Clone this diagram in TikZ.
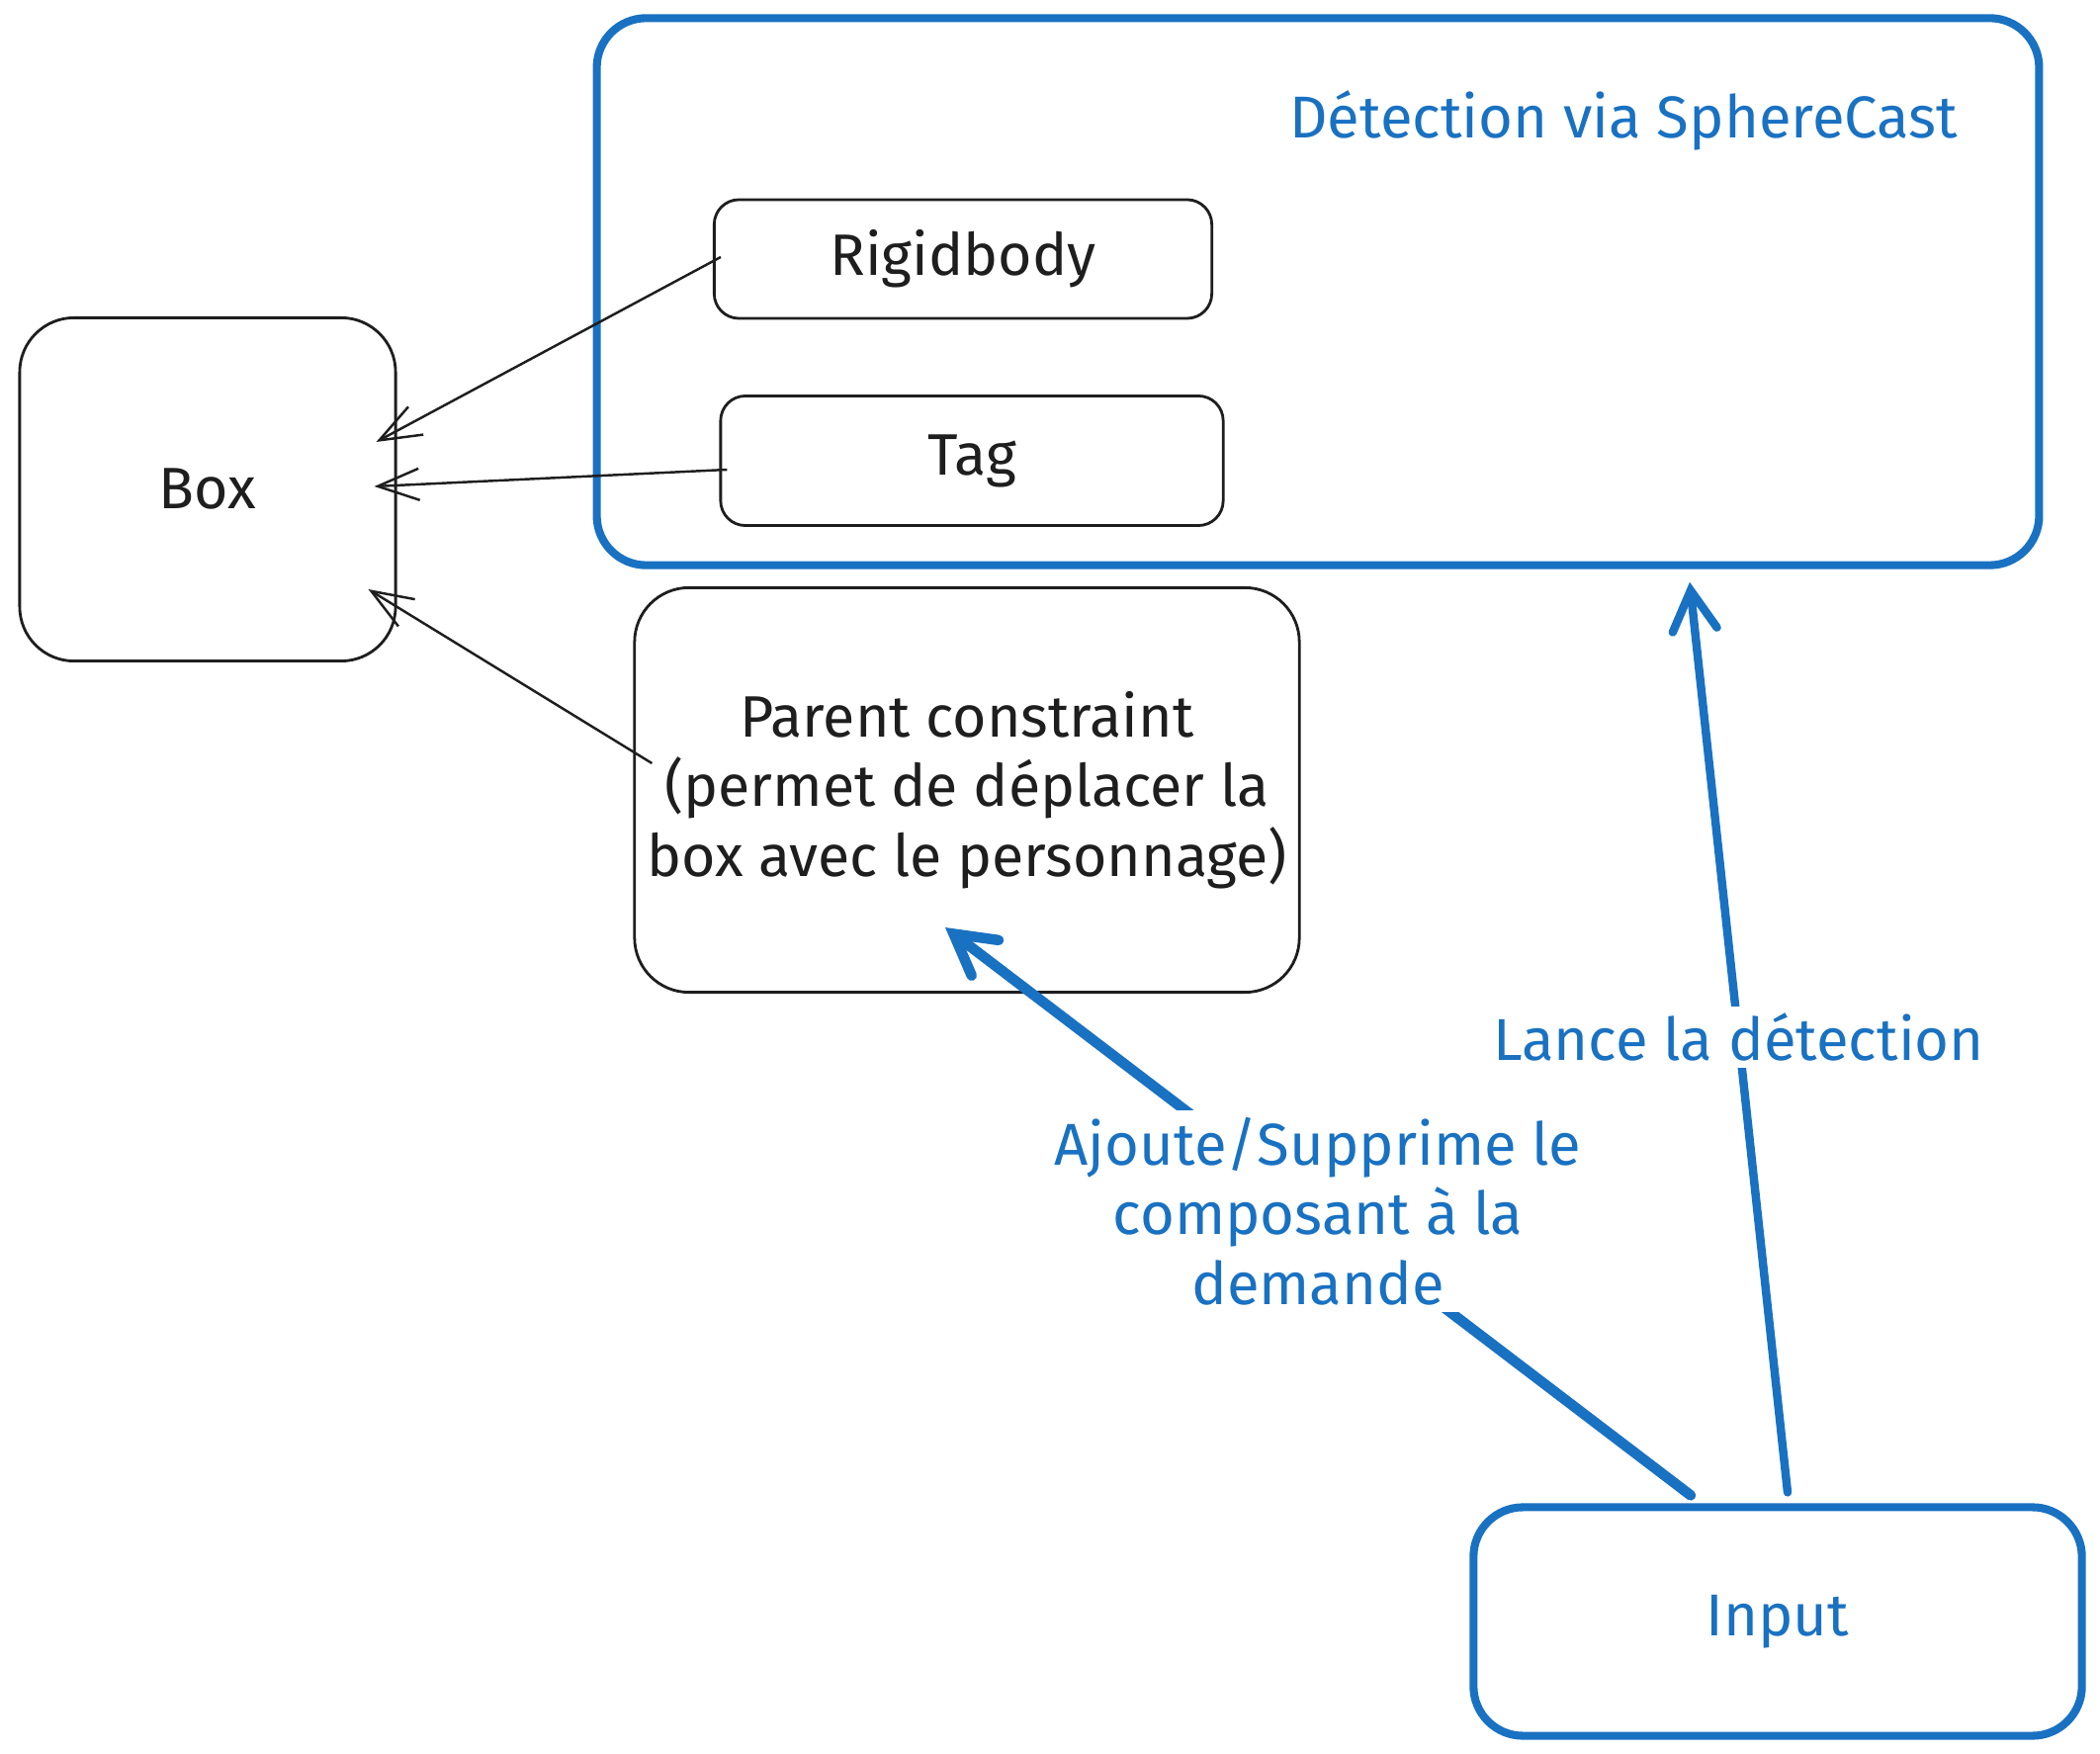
\documentclass[tikz,border=0pt]{standalone}
\usepackage{fontspec}
\setmainfont{Fira Sans}
\usepackage{tikz}
\usetikzlibrary{arrows.meta, calc}
\definecolor{exblue}{RGB}{25,113,194}
\definecolor{exblack}{RGB}{30,30,30}

\tikzset{
    plainbox/.style={draw=exblack, line width=0.8pt, rounded corners=0.25cm, font=\fontsize{16.8}{20}\selectfont, text=exblack},
    bluebox/.style={draw=exblue, line width=2.3pt, rounded corners=0.5cm, font=\fontsize{17}{20}\selectfont, text=exblue},
    blacklink/.style={draw=exblack, line width=0.7pt, -{Straight Barb[length=4.2mm, width=3.2mm]}},
    bluelink/.style={draw=exblue, line width=2.4pt, line cap=round, -{Straight Barb[length=4mm, width=4.5mm, line cap=round]}},
    bluelabel/.style={fill=white, text=exblue, font=\fontsize{17}{20}\selectfont, align=center, inner sep=2pt}
}

\begin{document}
\begin{tikzpicture}[x=0.01cm, y=-0.01cm]
    \useasboundingbox (0,0) rectangle (2124,1774);

    % SphereCast frame
    \node[bluebox, minimum width=14.58cm, minimum height=5.53cm] at (1333,295) (detection) {};
    \node[text=exblue, font=\fontsize{17}{20}\selectfont] at (1642,122) (detectiontitle) {Détection via SphereCast};

    % Components
    \node[plainbox, minimum width=5.03cm, minimum height=1.2cm] at (974,262) (rigidbody) {Rigidbody};
    \node[plainbox, minimum width=5.08cm, minimum height=1.31cm] at (983,466) (tag) {Tag};
    \node[plainbox, rounded corners=0.55cm, minimum width=3.8cm, minimum height=3.47cm] at (210,495) (box) {Box};
    \node[plainbox, rounded corners=0.55cm, minimum width=6.72cm, minimum height=4.09cm, align=center] at (978,799) (parent)
        {Parent constraint\\(permet de déplacer la\\box avec le personnage)};

    % Input
    \node[bluebox, minimum width=6.15cm, minimum height=2.31cm] at (1798,1640) (input) {Input};

    % Links to the box
    \draw[blacklink] ($(rigidbody.west)+(8,-2)$) -- ($(box.east)+(-21,-48)$);
    \draw[blacklink] ($(tag.west)+(8,9)$) -- ($(box.east)+(-23,-3)$);
    \draw[blacklink] ($(parent.west)+(19,-27)$) -- ($(box.east)+(-29,101)$);

    % Links from the input
    \draw[bluelink, line width=3pt] ($(input.north)+(-88,-8)$) -- node[bluelabel, pos=0.5] (addlabel) {Ajoute/Supprime le\\composant à la\\demande} ($(parent.south)+(-22,-67)$);
    \draw[bluelink] ($(input.north)+(10,-11)$) -- node[bluelabel, pos=0.5] (launchlabel) {Lance la détection} ($(detection.south)+(376,13)$);
\end{tikzpicture}
\end{document}
